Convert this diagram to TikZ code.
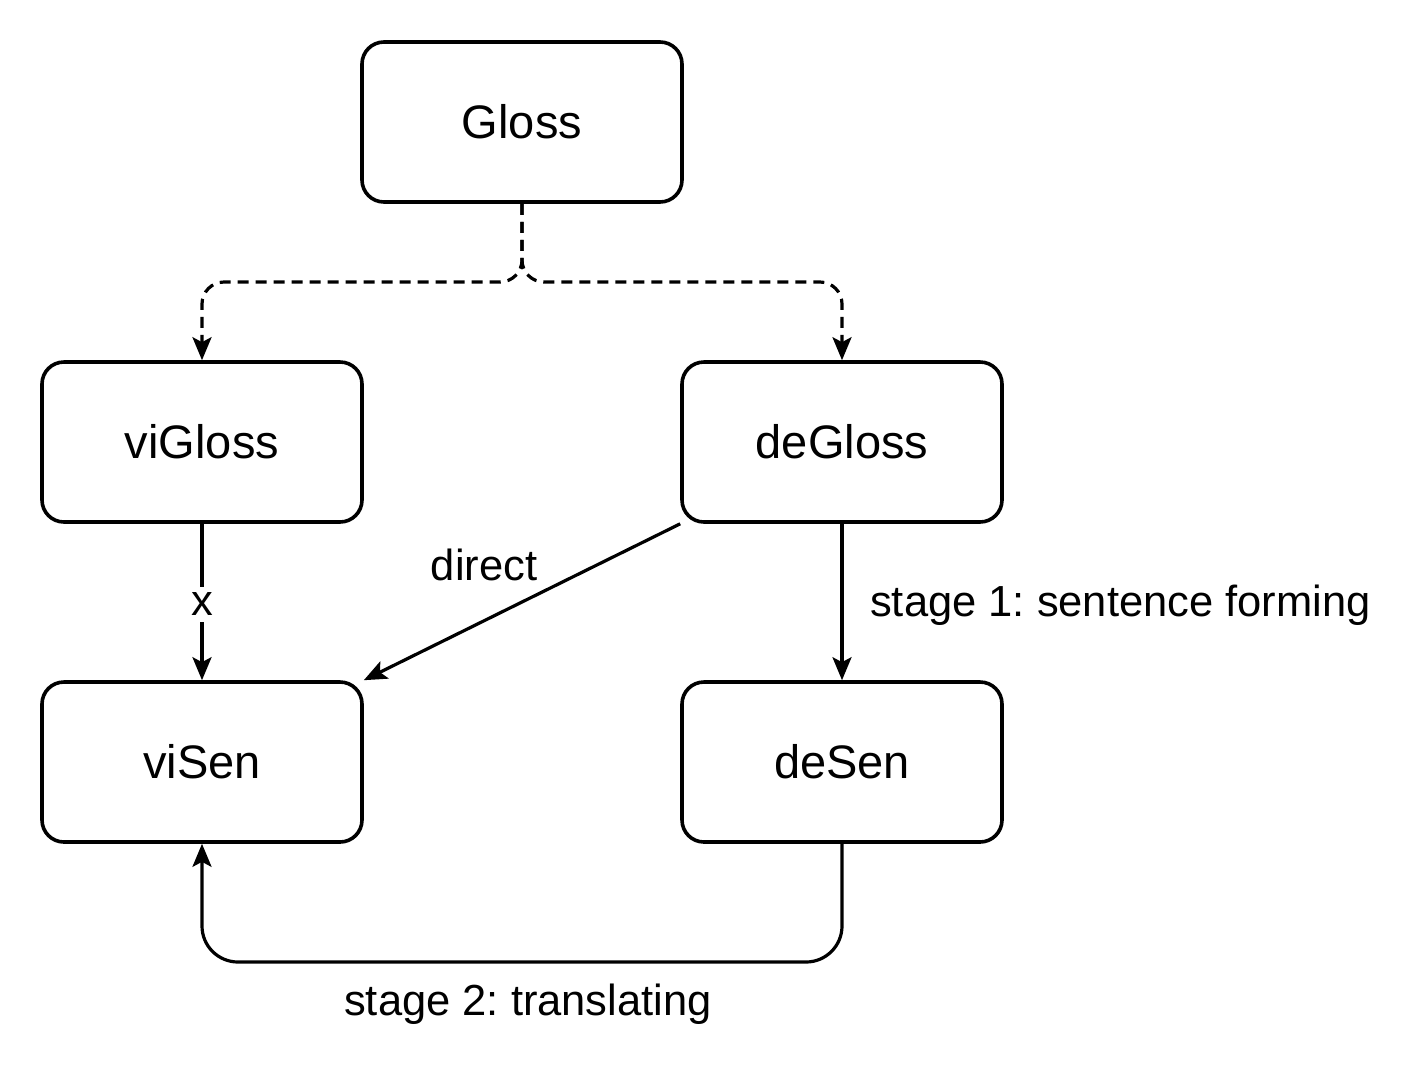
\documentclass[tikz,border=0pt]{standalone}
\usepackage{fontspec}
\setmainfont{Liberation Sans}
\usetikzlibrary{arrows.meta}
\begin{document}
\frenchspacing
\begin{tikzpicture}[x=1pt,y=-1pt,
  box/.style={draw,line width=3.6pt,rounded corners=22pt,minimum width=320pt,minimum height=160pt,inner sep=0pt,font=\fontsize{47}{56}\selectfont},
  lbl/.style={font=\fontsize{43.5}{52}\selectfont,inner sep=2pt},
  conn/.style={line width=3.2pt,-{Stealth[length=23pt,width=19pt,inset=5pt]}},
  dsh/.style={conn,dash pattern=on 11pt off 7pt,rounded corners=22pt}]
\useasboundingbox (0,0) rectangle (1420,1072);
\node[box] (gloss) at (522,122) {Gloss};
\node[box] (vig) at (202,442) {viGloss};
\node[box] (deg) at (842,442) {deGloss};
\node[box] (vis) at (202,762) {viSen};
\node[box] (des) at (842,762) {deSen};
\coordinate (j) at (522,282);
\draw[dsh] (gloss.south) -- (j) -| (vig.north);
\draw[dsh] (gloss.south) -- (j) -| (deg.north);
\draw[conn] (vig.south) -- node[lbl,fill=white,inner ysep=6pt,yshift=-2pt] {x} (vis.north);
\draw[conn] (deg.south west) -- (vis.north east);
\node[lbl] (ldirect) at (484,565) {direct};
\draw[conn] (deg.south) -- (des.north);
\node[lbl,anchor=west] (lst1) at (868,605) {stage 1: sentence forming};
\coordinate (b) at (522,962);
\draw[conn,rounded corners=36pt] (des.south) |- (b) -| (vis.south);
\node[lbl] (lst2) at (528,1004) {stage 2: translating};
\end{tikzpicture}
\end{document}
